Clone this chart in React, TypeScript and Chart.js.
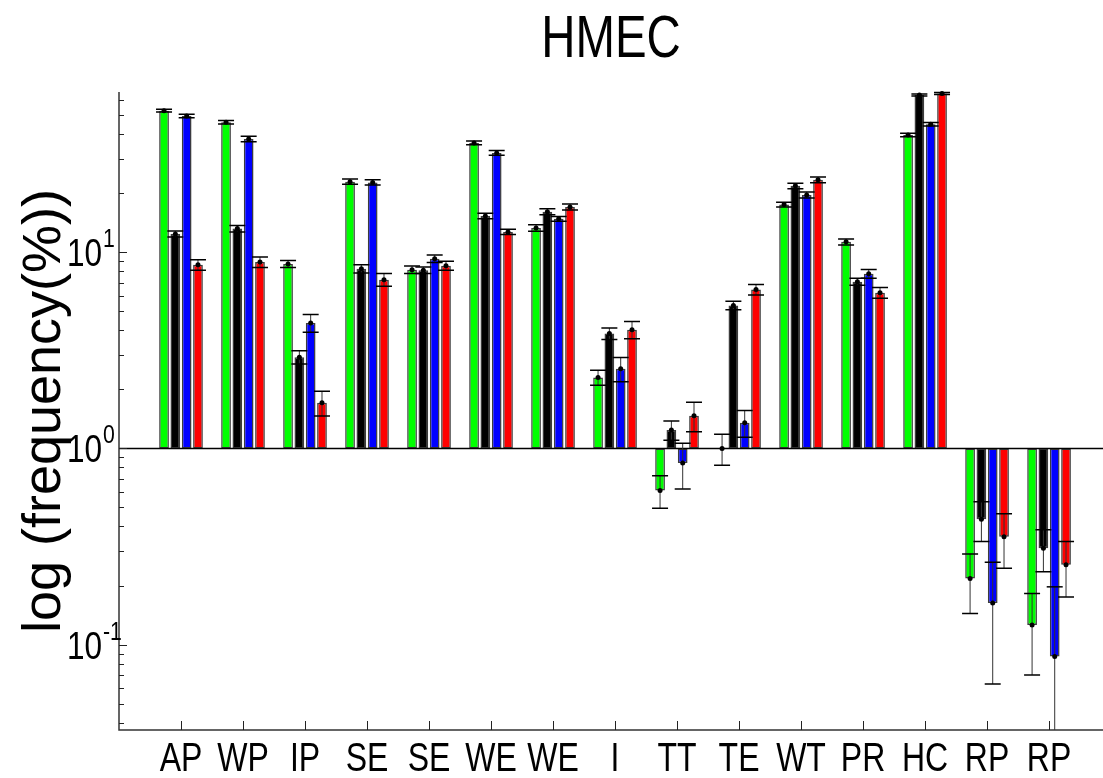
import React, { useEffect, useRef } from 'react';
import { Chart, registerables } from 'chart.js';
Chart.register(...registerables);

const categories = ['AP', 'WP', 'IP', 'SE', 'SE', 'WE', 'WE', 'I', 'TT', 'TE', 'WT', 'PR', 'HC', 'RP', 'RP'];
const greenValues = [52.7, 46.0, 8.71, 22.9, 8.15, 36.1, 13.3, 2.3, 0.611, 1.0, 17.5, 11.3, 39.6, 0.217, 0.126];
const greenErrors = [0.9, 0.95, 0.36, 0.7, 0.35, 0.8, 0.5, 0.2, 0.115, 0.18, 0.5, 0.4, 0.8, 0.073, 0.056];
const blackValues = [12.4, 13.2, 2.92, 8.24, 8.1, 15.3, 16.1, 3.85, 1.24, 5.36, 21.8, 7.08, 63.3, 0.435, 0.31];
const blackErrors = [0.44, 0.5, 0.23, 0.4, 0.3, 0.5, 0.55, 0.26, 0.14, 0.27, 0.7, 0.3, 0.8, 0.1, 0.075];
const blueValues = [49.5, 37.8, 4.36, 22.7, 9.27, 32.1, 14.8, 2.545, 0.842, 1.35, 19.6, 7.77, 44.9, 0.163, 0.087];
const blueErrors = [1.05, 1.2, 0.45, 0.7, 0.4, 0.9, 0.4, 0.36, 0.22, 0.21, 0.7, 0.4, 0.9, 0.1, 0.11];
const redValues = [8.63, 8.91, 1.71, 7.25, 8.54, 12.7, 17.0, 4.03, 1.467, 6.45, 23.4, 6.22, 64.5, 0.355, 0.255];
const redErrors = [0.54, 0.55, 0.245, 0.54, 0.45, 0.4, 0.6, 0.41, 0.25, 0.4, 0.8, 0.4, 0.8, 0.11, 0.08];

const seriesColors = ['#00ff00', '#000000', '#0000ff', '#ff0000'];
const seriesValues = [greenValues, blackValues, blueValues, redValues];
const seriesErrors = [greenErrors, blackErrors, blueErrors, redErrors];
const yMajorTicks = [0.1, 1, 10];
const titleText = 'HMEC';
const yTitleText = 'log (frequency(%))';
const Y_MIN = 0.0367;
const Y_MAX = 65.6;
const FONT = "'Liberation Sans', Arial, sans-serif";

function narrowText(ctx: CanvasRenderingContext2D, text: string, x: number, y: number, size: number, sx: number, align: 'left' | 'center' | 'right') {
  ctx.save();
  ctx.font = `${size}px ${FONT}`;
  ctx.translate(x, y);
  ctx.scale(sx, 1);
  ctx.textAlign = align;
  ctx.textBaseline = 'alphabetic';
  ctx.fillStyle = '#000';
  ctx.fillText(text, 0, 0);
  ctx.restore();
}

const decorPlugin = {
  id: 'decor',
  afterDatasetsDraw(chart: any) {
    const ctx = chart.ctx as CanvasRenderingContext2D;
    const { left, right, bottom } = chart.chartArea;
    const y = chart.scales.y;
    ctx.save();
    ctx.strokeStyle = '#000';
    ctx.lineWidth = 1.5;
    ctx.beginPath();
    const by = y.getPixelForValue(1);
    ctx.moveTo(left, by);
    ctx.lineTo(right, by);
    ctx.stroke();
    seriesValues.forEach((vals, d) => {
      const meta = chart.getDatasetMeta(d);
      vals.forEach((v, i) => {
        const el = meta.data[i];
        if (!el) return;
        const cx = el.x;
        const e = seriesErrors[d][i];
        const hi = y.getPixelForValue(v + e);
        const lo = v - e > Y_MIN ? y.getPixelForValue(v - e) : bottom;
        const py = y.getPixelForValue(v);
        ctx.strokeStyle = '#333';
        ctx.lineWidth = 1;
        ctx.beginPath();
        ctx.moveTo(cx, hi);
        ctx.lineTo(cx, lo);
        ctx.stroke();
        ctx.strokeStyle = '#000';
        ctx.lineWidth = 1.5;
        ctx.beginPath();
        ctx.moveTo(cx - 8, hi);
        ctx.lineTo(cx + 8, hi);
        if (v - e > Y_MIN) {
          ctx.moveTo(cx - 8, lo);
          ctx.lineTo(cx + 8, lo);
        }
        ctx.stroke();
        ctx.fillStyle = '#000';
        ctx.beginPath();
        ctx.arc(cx, py, 2.5, 0, Math.PI * 2);
        ctx.fill();
      });
    });
    ctx.restore();
  },
  afterDraw(chart: any) {
    const ctx = chart.ctx as CanvasRenderingContext2D;
    const { left, right, top, bottom } = chart.chartArea;
    const x = chart.scales.x;
    const y = chart.scales.y;
    ctx.save();
    ctx.strokeStyle = '#333';
    ctx.lineWidth = 1.5;
    ctx.beginPath();
    ctx.moveTo(left, top);
    ctx.lineTo(left, bottom);
    ctx.lineTo(right, bottom);
    ctx.stroke();
    ctx.lineWidth = 1;
    ctx.strokeStyle = '#222';
    ctx.beginPath();
    for (let ex = -2; ex <= 1; ex++) {
      for (let m = 1; m <= 9; m++) {
        const v = m * Math.pow(10, ex);
        if (v < Y_MIN || v > Y_MAX) continue;
        const py = Math.round(y.getPixelForValue(v)) + 0.5;
        ctx.moveTo(left, py);
        ctx.lineTo(left + (m === 1 ? 8 : 5), py);
      }
    }
    ctx.stroke();
    ctx.beginPath();
    categories.forEach((c, i) => {
      const px = Math.round(x.getPixelForValue(i)) + 0.5;
      ctx.moveTo(px, bottom);
      ctx.lineTo(px, bottom - 9);
    });
    ctx.stroke();
    ctx.restore();
    categories.forEach((c, i) => {
      narrowText(ctx, c, x.getPixelForValue(i), bottom + 41, 40, 0.8, 'center');
    });
    yMajorTicks.forEach((v) => {
      const py = y.getPixelForValue(v);
      const exp = String(Math.round(Math.log10(v)));
      narrowText(ctx, '10', left - 17, py + 14, 38, 0.83, 'right');
      narrowText(ctx, exp, left - 16, py - 5, 25, 0.85, 'left');
    });
    ctx.save();
    ctx.translate(60, (top + bottom) / 2);
    ctx.rotate(-Math.PI / 2);
    ctx.font = `54px ${FONT}`;
    ctx.textAlign = 'center';
    ctx.textBaseline = 'alphabetic';
    ctx.fillStyle = '#000';
    ctx.fillText(yTitleText, 0, 0);
    ctx.restore();
    narrowText(ctx, titleText, (left + right) / 2, 57, 60, 0.79, 'center');
  },
};

export default function App() {
  const ref = useRef<HTMLCanvasElement | null>(null);
  useEffect(() => {
    if (!ref.current) return;
    const chart = new Chart(ref.current, {
      type: 'bar',
      data: {
        datasets: seriesValues.map((vals, d) => ({
          label: ['green', 'black', 'blue', 'red'][d],
          data: vals.map((v, i) => ({ x: i, y: [1, v] })),
          backgroundColor: seriesColors[d],
          borderColor: '#3c3c3c',
          borderWidth: 1.5,
          borderSkipped: false,
          categoryPercentage: 0.73,
          barPercentage: 0.86,
        })) as any,
      },
      options: {
        animation: false,
        responsive: true,
        maintainAspectRatio: false,
        layout: { padding: { left: 119, top: 92, right: 0, bottom: 48 } },
        plugins: { legend: { display: false }, tooltip: { enabled: false }, title: { display: false } },
        scales: {
          x: {
            type: 'linear',
            display: false,
            offset: false,
            grid: { offset: false },
            min: -1,
            max: 14.87,
            ticks: { stepSize: 1, includeBounds: false },
          },
          y: {
            type: 'logarithmic',
            display: false,
            min: Y_MIN,
            max: Y_MAX,
          },
        },
      },
      plugins: [decorPlugin],
    });
    return () => chart.destroy();
  }, []);
  return (
    <div style={{ position: 'fixed', left: 0, top: 0, width: 1103, height: 778, background: '#fff' }}>
      <canvas ref={ref} />
    </div>
  );
}
